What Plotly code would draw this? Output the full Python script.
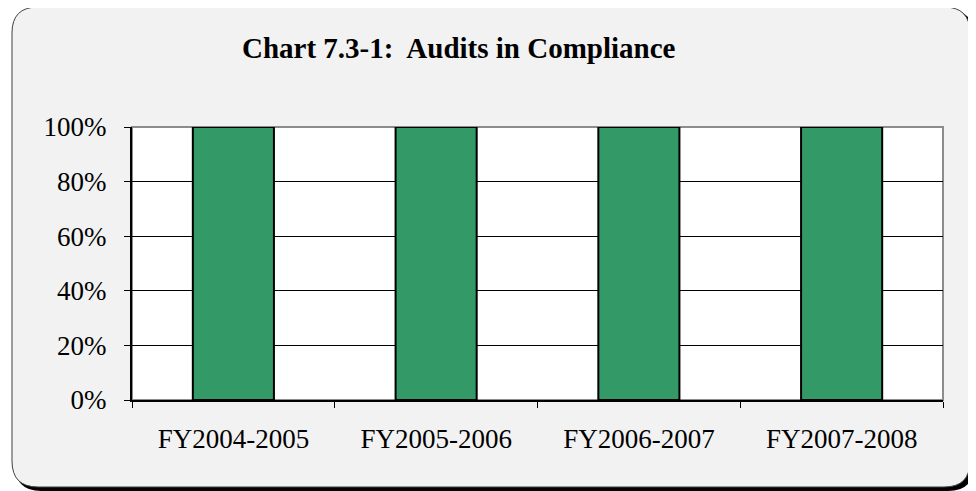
import plotly.graph_objects as go

categories = ["FY2004-2005", "FY2005-2006", "FY2006-2007", "FY2007-2008"]
compliance = [1.0, 1.0, 1.0, 1.0]
y_ticks = [0, 0.2, 0.4, 0.6, 0.8, 1.0]

# page body has an 8px margin, so work in figure pixels = screen pixels - 8
OFF = 8
W, H = 976 - OFF, 491 - OFF
L, R, T, B = 132 - OFF, 943 - OFF, 127 - OFF, 400 - OFF   # plot area


def px(x):
    return (x - OFF - L) / (R - L)


def py(y):
    return (B - (y - OFF)) / (B - T)


def rounded(x0, y0, x1, y1, r):
    pts = [
        ("M", x0 + r, y0), ("L", x1 - r, y0), ("Q", x1, y0, x1, y0 + r),
        ("L", x1, y1 - r), ("Q", x1, y1, x1 - r, y1),
        ("L", x0 + r, y1), ("Q", x0, y1, x0, y1 - r),
        ("L", x0, y0 + r), ("Q", x0, y0, x0 + r, y0),
    ]
    out = ""
    for p in pts:
        if p[0] == "Q":
            out += "Q%.5f,%.5f %.5f,%.5f " % (px(p[1]), py(p[2]), px(p[3]), py(p[4]))
        else:
            out += "%s%.5f,%.5f " % (p[0], px(p[1]), py(p[2]))
    return out + "Z"


fig = go.Figure()
fig.add_trace(go.Bar(
    x=categories, y=compliance,
    marker=dict(color="#339966", line=dict(color="black", width=2)),
    width=0.4,
))

shapes = [
    # shadow
    dict(type="path", xref="paper", yref="paper", layer="below",
         path=rounded(15, 10, 974, 491, 26), fillcolor="black", line=dict(width=0)),
    # frame
    dict(type="path", xref="paper", yref="paper", layer="below",
         path=rounded(12, 7, 970, 487, 26), fillcolor="#f2f2f2",
         line=dict(color="#404040", width=1)),
    # plot area
    dict(type="rect", xref="paper", yref="paper", layer="below",
         x0=0, x1=1, y0=0, y1=1, fillcolor="white",
         line=dict(color="#8c8c8c", width=2)),
]

fig.update_layout(
    width=W, height=H,
    margin=dict(l=L, r=W - R, t=T, b=H - B),
    paper_bgcolor="white", plot_bgcolor="rgba(0,0,0,0)",
    font=dict(family="Liberation Serif", color="black", size=27),
    showlegend=False,
    shapes=shapes,
    annotations=[dict(
        text="<b>Chart 7.3-1:&nbsp; Audits in Compliance</b>",
        xref="paper", yref="paper", x=px(459), y=py(48),
        xanchor="center", yanchor="middle", showarrow=False,
        font=dict(size=29),
    )],
    bargap=0.6,
)
fig.update_xaxes(
    type="category", tickson="boundaries", ticks="outside", ticklen=6,
    tickcolor="black", showline=True, linecolor="black", linewidth=2,
    showgrid=False, range=[-0.5, 3.5], ticklabelstandoff=14,
)
fig.update_yaxes(
    range=[0, 1], tickvals=y_ticks, tickformat=".0%", ticks="outside",
    ticklen=6, tickcolor="black", showline=True, linecolor="black",
    linewidth=2, gridcolor="black", gridwidth=1, zeroline=False,
    ticklabelstandoff=12,
)

fig.write_html("out.html")
